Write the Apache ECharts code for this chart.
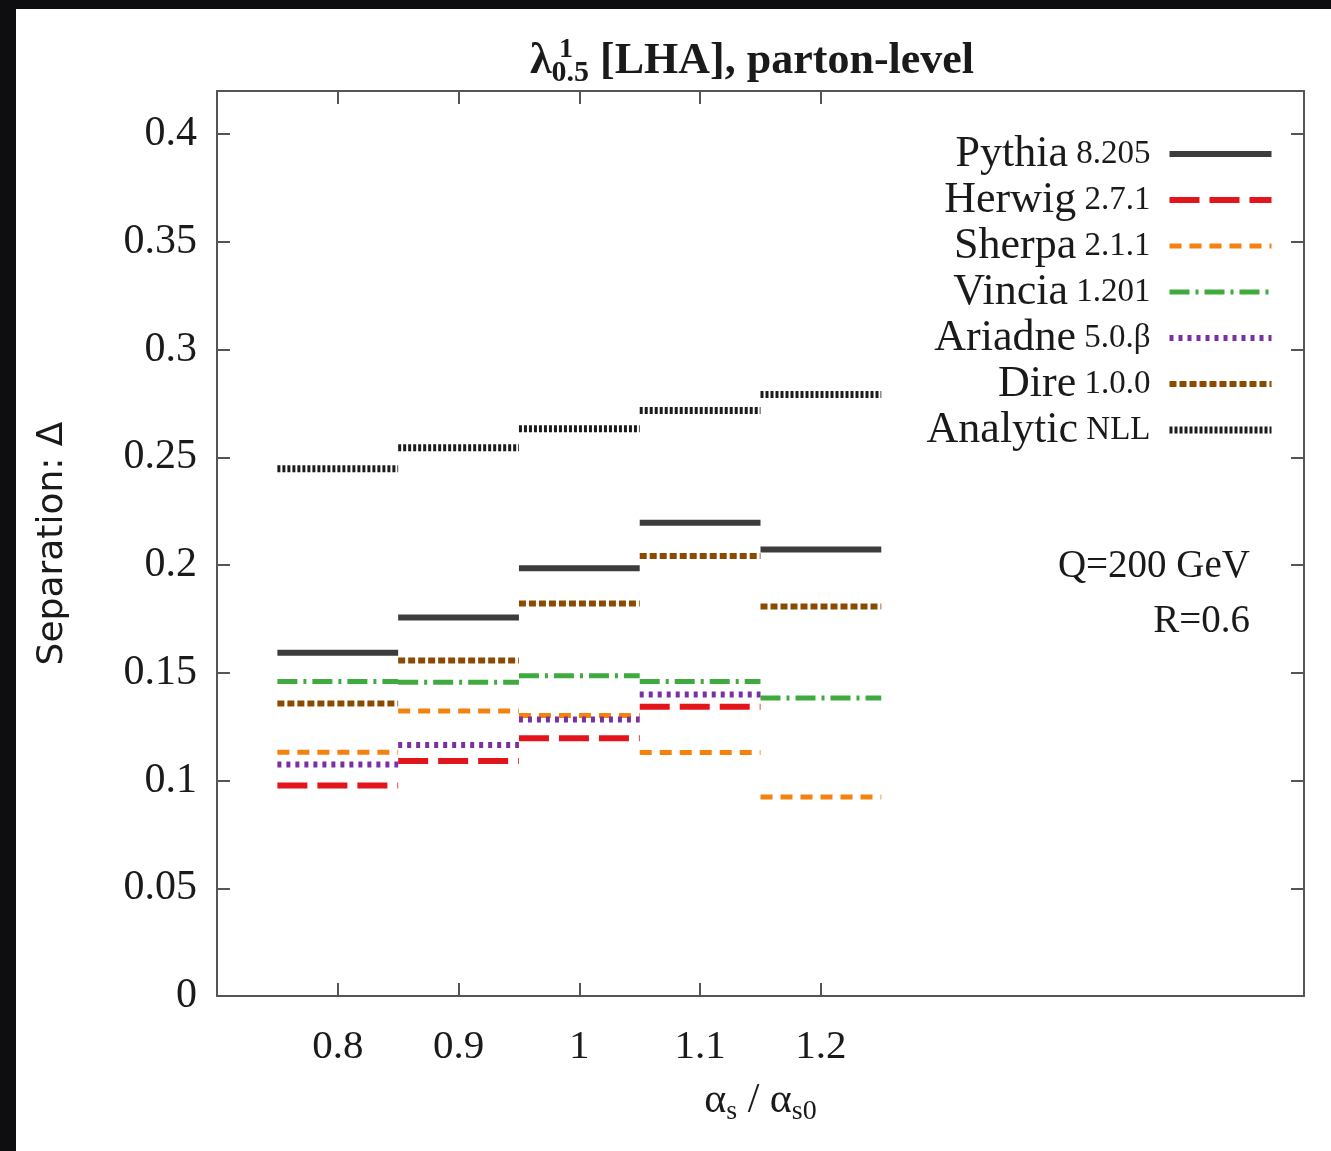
<!DOCTYPE html>
<html><head><meta charset="utf-8">
<script src="https://cdn.jsdelivr.net/npm/echarts@6/dist/echarts.min.js"></script>
<style>
html,body{margin:0;padding:0;background:#0e0e10;width:1331px;height:1151px;overflow:hidden}
#c{position:absolute;left:16px;top:9px;width:1315px;height:1142px;background:#fff}
</style></head><body><div id="c"></div>
<script>
// ---- data ----
const xCenters = [0.8, 0.9, 1.0, 1.1, 1.2];
const xTickValues = [0.8, 0.9, 1, 1.1, 1.2];
const yTickValues = [0, 0.05, 0.1, 0.15, 0.2, 0.25, 0.3, 0.35, 0.4];
const binHalfWidth = 0.05;
const seriesNames = ['Pythia 8.205', 'Herwig 2.7.1', 'Sherpa 2.1.1', 'Vincia 1.201', 'Ariadne 5.0.β', 'Dire 1.0.0', 'Analytic NLL'];
const pythia  = [0.1593, 0.1757, 0.1985, 0.2196, 0.2072];
const herwig  = [0.0977, 0.1091, 0.1196, 0.1342, null];
const sherpa  = [0.1131, 0.1323, 0.1302, 0.1130, 0.0924];
const vincia  = [0.1460, 0.1456, 0.1486, 0.1460, 0.1383];
const ariadne = [0.1074, 0.1165, 0.1283, 0.1399, null];
const dire    = [0.1358, 0.1557, 0.1821, 0.2042, 0.1808];
const nll     = [0.2447, 0.2544, 0.2633, 0.2717, 0.2791];

function segs(vals) {
  const out = [];
  vals.forEach((v, i) => {
    if (v === null) return;
    out.push([xCenters[i] - binHalfWidth, v]);
    out.push([xCenters[i] + binHalfWidth, v]);
    out.push([xCenters[i] + binHalfWidth, null]);
  });
  return out;
}

const styles = [
  {color: '#3c3c3c', width: 6, type: 'solid'},
  {color: '#e3151c', width: 6, type: [30, 10]},
  {color: '#f5820f', width: 5, type: [12, 8]},
  {color: '#3fab3f', width: 5, type: [20, 6, 3, 6]},
  {color: '#7a2fa2', width: 6, type: [4, 5]},
  {color: '#8b4a00', width: 6, type: [7, 3]},
  {color: '#1c1c1c', width: 7, type: [3, 2]}
];
const allVals = [pythia, herwig, sherpa, vincia, ariadne, dire, nll];

const SERIF = '"Liberation Serif", "DejaVu Serif", serif';
const SANS = '"DejaVu Sans", "Liberation Sans", sans-serif';

const series = seriesNames.map((n, i) => ({
  name: n,
  type: 'line',
  data: segs(allVals[i]),
  symbol: 'none',
  showSymbol: false,
  connectNulls: false,
  lineStyle: {color: styles[i].color, width: styles[i].width, type: styles[i].type, cap: 'butt'},
  itemStyle: {color: styles[i].color},
  xAxisIndex: 0, yAxisIndex: 0,
  z: 3
}));

const legendData = seriesNames.map((n, i) => ({
  name: n,
  itemStyle: {opacity: 0},
  lineStyle: {width: styles[i].width, type: styles[i].type, color: styles[i].color, cap: 'butt'}
}));

const axisLineStyle = {color: '#555', width: 2};
const chart = echarts.init(document.getElementById('c'), null, {renderer: 'canvas'});
chart.setOption({
  animation: false,
  backgroundColor: '#fff',
  grid: {left: 201, top: 82, width: 1087, height: 905, containLabel: false},
  legend: {
    orient: 'vertical',
    right: 51,
    top: 118,
    align: 'right',
    itemWidth: 102,
    itemHeight: 14,
    itemGap: 2,
    data: legendData,
    itemStyle: {opacity: 0},
    formatter: function (name) {
      const k = name.indexOf(' ');
      return '{a|' + name.slice(0, k) + '}{b| ' + name.slice(k + 1) + '}';
    },
    textStyle: {
      color: '#1a1a1a',
      padding: [0, 14, 0, 0],
      rich: {
        a: {fontFamily: SERIF, fontSize: 44, color: '#1a1a1a', lineHeight: 40},
        b: {fontFamily: SERIF, fontSize: 33, color: '#1a1a1a', lineHeight: 40}
      }
    }
  },
  xAxis: [{
    type: 'value', min: 0.7, max: 1.6, interval: 0.1,
    position: 'bottom',
    name: '{a|α}{s|s}{a| / α}{s|s0}',
    nameLocation: 'middle', nameGap: 80,
    nameTextStyle: {
      rich: {
        a: {fontFamily: SERIF, fontSize: 42, color: '#1a1a1a'},
        s: {fontFamily: SERIF, fontSize: 28, color: '#1a1a1a', padding: [22, 0, 0, 0]}
      }
    },
    axisLine: {show: true, onZero: false, lineStyle: axisLineStyle},
    axisTick: {show: true, inside: true, length: 13, lineStyle: axisLineStyle, customValues: xTickValues},
    axisLabel: {show: true, customValues: xTickValues, margin: 31, fontFamily: SERIF, fontSize: 41, color: '#1a1a1a',
      formatter: v => String(+v.toFixed(2))},
    splitLine: {show: false}
  }, {
    type: 'value', min: 0.7, max: 1.6, interval: 0.1,
    position: 'top',
    axisLine: {show: true, onZero: false, lineStyle: axisLineStyle},
    axisTick: {show: true, inside: true, length: 13, lineStyle: axisLineStyle, customValues: xTickValues},
    axisLabel: {show: false},
    splitLine: {show: false}
  }],
  yAxis: [{
    type: 'value', min: 0, max: 0.42, interval: 0.05,
    position: 'left',
    name: 'Separation: Δ',
    nameLocation: 'middle', nameGap: 146, nameRotate: 90,
    nameTextStyle: {fontFamily: SANS, fontSize: 36, color: '#1a1a1a'},
    axisLine: {show: true, onZero: false, lineStyle: axisLineStyle},
    axisTick: {show: true, inside: true, length: 13, lineStyle: axisLineStyle, customValues: yTickValues},
    axisLabel: {show: true, customValues: yTickValues, margin: 20, fontFamily: SERIF, fontSize: 42, color: '#1a1a1a',
      formatter: v => String(+v.toFixed(2))},
    splitLine: {show: false}
  }, {
    type: 'value', min: 0, max: 0.42, interval: 0.05,
    position: 'right',
    axisLine: {show: true, onZero: false, lineStyle: axisLineStyle},
    axisTick: {show: true, inside: true, length: 13, lineStyle: axisLineStyle, customValues: yTickValues},
    axisLabel: {show: false},
    splitLine: {show: false}
  }],
  graphic: [
    {type: 'text', left: 514, top: 31, z: 10,
     style: {text: '{l|λ}{sub|0.5}{t| [LHA], parton-level}', rich: {
       l: {fontFamily: SERIF, fontSize: 44, fontWeight: 'bold', fill: '#1a1a1a'},
       sub: {fontFamily: SERIF, fontSize: 30, fontWeight: 'bold', fill: '#1a1a1a', padding: [22, 0, 0, 0]},
       t: {fontFamily: SERIF, fontSize: 44, fontWeight: 'bold', fill: '#1a1a1a'}
     }}},
    {type: 'text', left: 543, top: 27, z: 10,
     style: {text: '1', fontFamily: SERIF, fontSize: 28, fontWeight: 'bold', fill: '#1a1a1a'}},
    {type: 'text', right: 81, top: 538, z: 10,
     style: {text: 'Q=200 GeV', fontFamily: SERIF, fontSize: 39, fill: '#1a1a1a', textAlign: 'right'}},
    {type: 'text', right: 81, top: 593, z: 10,
     style: {text: 'R=0.6', fontFamily: SERIF, fontSize: 39, fill: '#1a1a1a', textAlign: 'right'}}
  ],
  series: series
});
</script></body></html>
